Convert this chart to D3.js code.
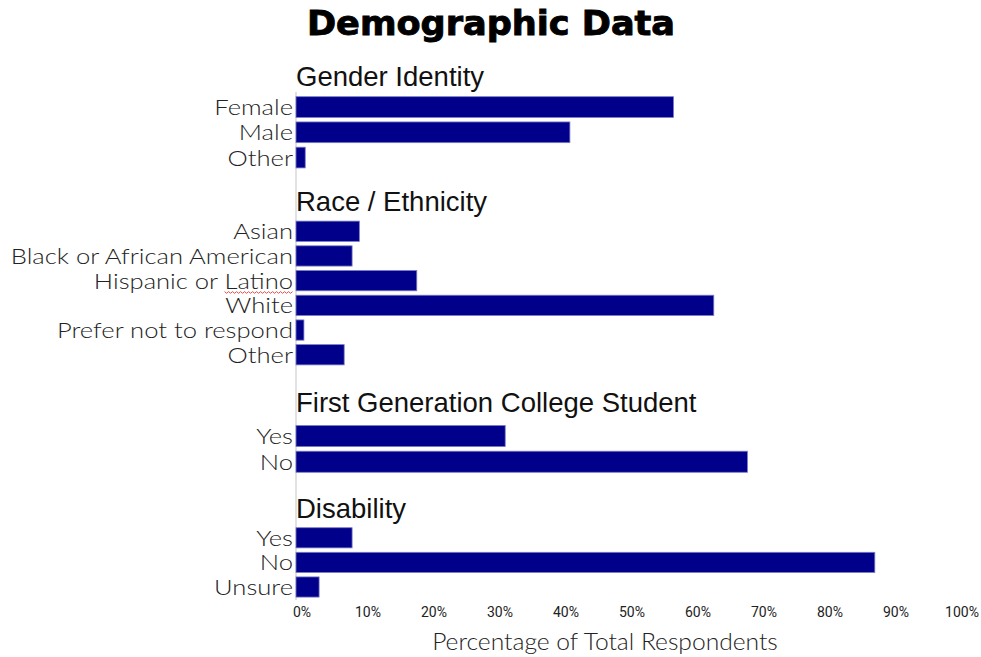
<!DOCTYPE html>
<html>
<head>
<meta charset="utf-8">
<script src="https://cdn.jsdelivr.net/npm/d3@7"></script>
<style>
  html, body { margin: 0; padding: 0; background: #fff; }
  svg { display: block; }
</style>
</head>
<body>
<svg id="chart" width="981" height="657"></svg>
<script>
// ---------------- DATA ----------------
const chartTitle = "Demographic Data";
const axisTitle = "Percentage of Total Respondents";
const groupNames = ["Gender Identity", "Race / Ethnicity", "First Generation College Student", "Disability"];

const genderCats = ["Female", "Male", "Other"];
const genderVals = [57.2, 41.5, 1.4];

const raceCats = ["Asian", "Black or African American", "Hispanic or Latino", "White", "Prefer not to respond", "Other"];
const raceVals = [9.6, 8.5, 18.3, 63.3, 1.2, 7.3];

const firstGenCats = ["Yes", "No"];
const firstGenVals = [31.7, 68.4];

const disabilityCats = ["Yes", "No", "Unsure"];
const disabilityVals = [8.5, 87.7, 3.5];

const xTickValues = [0, 10, 20, 30, 40, 50, 60, 70, 80, 90, 100];
const xTickLabels = ["0%", "10%", "20%", "30%", "40%", "50%", "60%", "70%", "80%", "90%", "100%"];

// ---------------- LAYOUT ----------------
const plotLeft = 296, plotRight = 956;
const groupRanges = [[94.4, 170.2], [218.9, 367.1], [423.2, 474.6], [525.5, 599.3]];
const headerBaselines = [86, 211, 412, 518];
const barColor = "#00008B";
const labelStretch = 1.19;

const svg = d3.select("#chart");
const x = d3.scaleLinear().domain([0, 100]).range([plotLeft, plotRight]);

const groups = [
  { name: groupNames[0], cats: genderCats, vals: genderVals },
  { name: groupNames[1], cats: raceCats, vals: raceVals },
  { name: groupNames[2], cats: firstGenCats, vals: firstGenVals },
  { name: groupNames[3], cats: disabilityCats, vals: disabilityVals }
];

// Title
svg.append("text")
  .attr("x", 491).attr("y", 35)
  .attr("text-anchor", "middle")
  .attr("font-family", "'DejaVu Sans', sans-serif")
  .attr("font-weight", 900)
  .attr("font-size", 33)
  .attr("textLength", 368)
  .attr("lengthAdjust", "spacingAndGlyphs")
  .attr("fill", "#000")
  .attr("stroke", "#000").attr("stroke-width", 0.9)
  .text(chartTitle);

// Vertical axis line
svg.append("line")
  .attr("x1", x(0)).attr("x2", x(0))
  .attr("y1", 92).attr("y2", 600)
  .attr("stroke", "#d9d9d9").attr("stroke-width", 1.5);

function stretch(sel, factor) {
  sel.each(function() {
    const w = this.getComputedTextLength();
    d3.select(this).attr("textLength", w * factor).attr("lengthAdjust", "spacingAndGlyphs");
  });
}

groups.forEach((g, gi) => {
  const y = d3.scaleBand().domain(g.cats).range(groupRanges[gi]).paddingInner(0.18).paddingOuter(0.09);
  const gg = svg.append("g");

  // header
  gg.append("text")
    .attr("x", x(0)).attr("y", headerBaselines[gi])
    .attr("font-family", "'Liberation Sans', Arial, sans-serif")
    .attr("font-size", 27.5)
    .attr("fill", "#111")
    .text(g.name);

  // bars
  gg.selectAll("rect").data(g.cats).join("rect")
    .attr("x", x(0))
    .attr("y", d => y(d))
    .attr("width", (d, i) => x(g.vals[i]) - x(0))
    .attr("height", y.bandwidth())
    .attr("fill", barColor)
    .attr("stroke", "#7a7ac6").attr("stroke-width", 0.8);

  // category labels
  const labels = gg.selectAll("text.cat").data(g.cats).join("text")
    .attr("class", "cat")
    .attr("x", x(0) - 3)
    .attr("y", d => y(d) + y.bandwidth() / 2)
    .attr("dy", "0.37em")
    .attr("text-anchor", "end")
    .attr("font-family", "Lato, 'Open Sans', sans-serif")
    .attr("font-weight", 300)
    .attr("font-size", 21.5)
    .attr("fill", "#222")
    .text(d => d);
  stretch(labels, labelStretch);

  // spell-check squiggle under "Latino"
  labels.filter(d => d === "Hispanic or Latino").each(function(d) {
    const node = this;
    const full = node.getComputedTextLength();
    const idx = d.indexOf("Latino");
    const start = node.getSubStringLength(0, idx);
    const wlen = node.getSubStringLength(idx, 6);
    const x0 = (x(0) - 3) - full + start;
    const yy = y(d) + y.bandwidth() / 2 + 11;
    const pts = [];
    for (let t = 0; t <= wlen; t += 2) pts.push([x0 + t, yy + ((t / 2) % 2 === 0 ? 0 : 1.6)]);
    gg.append("path").attr("d", d3.line()(pts)).attr("fill", "none").attr("stroke", "#e04040").attr("stroke-width", 0.9);
  });
});

// X tick labels
svg.append("g").selectAll("text").data(xTickValues).join("text")
  .attr("x", d => x(d) + 6)
  .attr("y", 617)
  .attr("text-anchor", "middle")
  .attr("font-family", "'Liberation Sans Narrow', 'Roboto', sans-serif")
  .attr("font-size", 14)
  .attr("fill", "#222")
  .text((d, i) => xTickLabels[i]);

// Axis title
const at = svg.append("text")
  .attr("x", 605).attr("y", 650)
  .attr("text-anchor", "middle")
  .attr("font-family", "Lato, 'Open Sans', sans-serif")
  .attr("font-weight", 300)
  .attr("font-size", 23)
  .attr("fill", "#222")
  .text(axisTitle);
stretch(at, 1.07);
</script>
</body>
</html>
